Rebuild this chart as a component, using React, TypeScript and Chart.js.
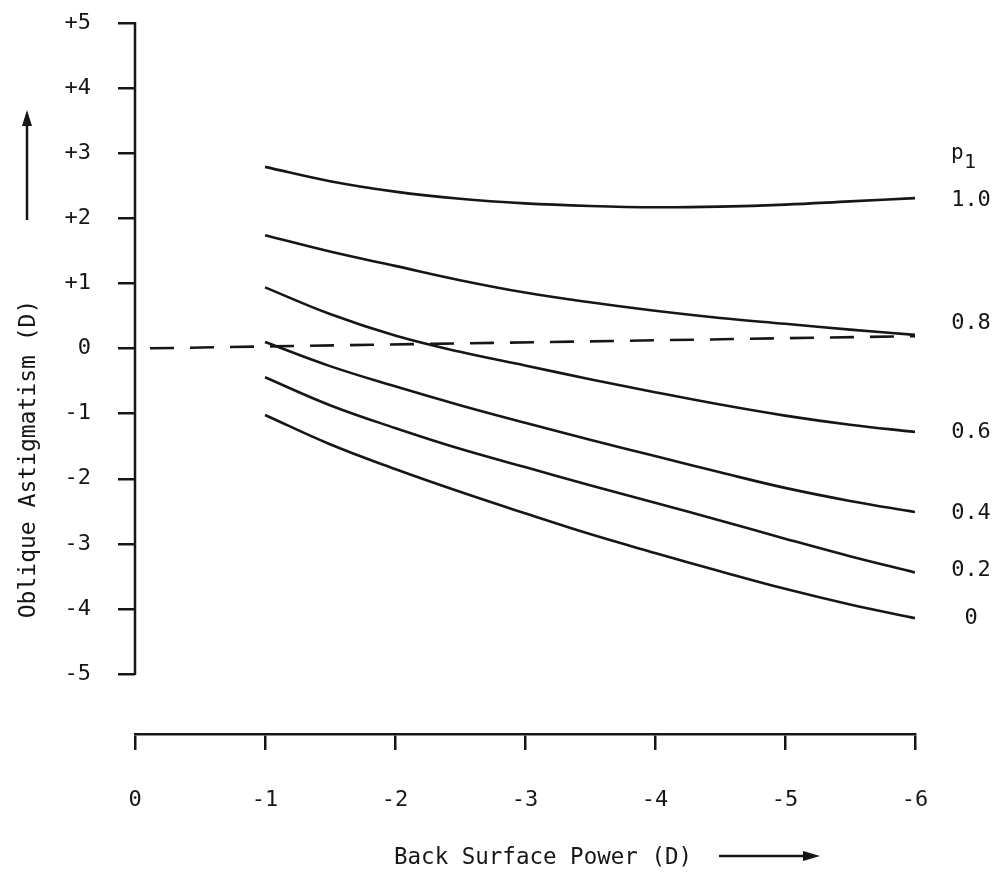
import React, { useEffect, useRef } from "react";
import { Chart, registerables } from "chart.js";

Chart.register(...registerables);

// ---- data ----
const X_VALUES = [-1, -1.5, -2, -2.5, -3, -3.5, -4, -4.5, -5, -5.5, -6];
const P1_NAMES = ["1.0", "0.8", "0.6", "0.4", "0.2", "0"];
const P1_10 = [2.79, 2.57, 2.41, 2.3, 2.23, 2.19, 2.17, 2.18, 2.21, 2.26, 2.31];
const P1_08 = [1.74, 1.49, 1.27, 1.05, 0.86, 0.71, 0.58, 0.47, 0.38, 0.29, 0.21];
const P1_06 = [0.94, 0.53, 0.2, -0.05, -0.26, -0.47, -0.67, -0.86, -1.03, -1.17, -1.28];
const P1_04 = [0.1, -0.27, -0.58, -0.87, -1.14, -1.4, -1.65, -1.9, -2.14, -2.34, -2.51];
const P1_02 = [-0.44, -0.87, -1.22, -1.54, -1.82, -2.1, -2.37, -2.64, -2.92, -3.19, -3.44];
const P1_00 = [-1.02, -1.47, -1.85, -2.2, -2.53, -2.85, -3.14, -3.42, -3.69, -3.93, -4.14];
const SERIES = [P1_10, P1_08, P1_06, P1_04, P1_02, P1_00];

const ZERO_LINE_X = [0, -6];
const ZERO_LINE_Y = [0, 0.19];

const P1_LABEL_Y = [2.28, 0.39, -1.28, -2.53, -3.41, -4.14];
const P1_HEADER_Y = 2.93;

const X_TICKS = [0, -1, -2, -3, -4, -5, -6];
const X_TICK_LABELS = ["0", "-1", "-2", "-3", "-4", "-5", "-6"];
const Y_TICKS = [5, 4, 3, 2, 1, 0, -1, -2, -3, -4, -5];
const Y_TICK_LABELS = ["+5", "+4", "+3", "+2", "+1", "0", "-1", "-2", "-3", "-4", "-5"];

const X_TITLE = "Back Surface Power (D)";
const Y_TITLE = "Oblique Astigmatism (D)";
const P1_HEADER = "p";
const P1_SUB = "1";

const INK = "#161616";
const FAMILY = "'DejaVu Sans Mono', 'Liberation Mono', monospace";

const decorPlugin = {
  id: "decor",
  afterDraw(chart: any) {
    const { ctx, chartArea } = chart;
    const x = chart.scales.x;
    const y = chart.scales.y;
    ctx.save();
    ctx.strokeStyle = INK;
    ctx.fillStyle = INK;
    ctx.lineWidth = 2.5;
    ctx.lineCap = "butt";

    // vertical axis line from +5 to -5 only
    ctx.beginPath();
    ctx.moveTo(chartArea.left, y.getPixelForValue(Y_TICKS[0]) - 1);
    ctx.lineTo(chartArea.left, y.getPixelForValue(Y_TICKS[Y_TICKS.length - 1]) + 1);
    ctx.stroke();

    // curve labels on the right
    ctx.font = `22px ${FAMILY}`;
    ctx.textAlign = "center";
    ctx.textBaseline = "middle";
    const lx = x.right + 56;
    P1_NAMES.forEach((name, i) => {
      ctx.fillText(name, lx, y.getPixelForValue(P1_LABEL_Y[i]));
    });
    // header p1
    const hy = y.getPixelForValue(P1_HEADER_Y);
    ctx.textAlign = "left";
    ctx.font = `21px ${FAMILY}`;
    ctx.fillText(P1_HEADER, x.right + 36, hy - 4);
    ctx.font = `20px ${FAMILY}`;
    ctx.fillText(P1_SUB, x.right + 49, hy + 5);

    // x title + arrow
    ctx.font = `22.5px ${FAMILY}`;
    ctx.textAlign = "left";
    ctx.fillText(X_TITLE, 394, 858);
    ctx.beginPath();
    ctx.moveTo(719, 856);
    ctx.lineTo(806, 856);
    ctx.stroke();
    ctx.beginPath();
    ctx.moveTo(820, 856);
    ctx.lineTo(803, 851);
    ctx.lineTo(803, 861);
    ctx.closePath();
    ctx.fill();

    // y title (rotated) + arrow
    ctx.save();
    ctx.translate(29, 459);
    ctx.rotate(-Math.PI / 2);
    ctx.font = `23px ${FAMILY}`;
    ctx.textAlign = "center";
    ctx.fillText(Y_TITLE, 0, 0);
    ctx.restore();
    ctx.beginPath();
    ctx.moveTo(27, 220);
    ctx.lineTo(27, 122);
    ctx.stroke();
    ctx.beginPath();
    ctx.moveTo(27, 110);
    ctx.lineTo(22, 126);
    ctx.lineTo(32, 126);
    ctx.closePath();
    ctx.fill();

    ctx.restore();
  },
};

export default function App() {
  const canvasRef = useRef<HTMLCanvasElement | null>(null);

  useEffect(() => {
    if (!canvasRef.current) return;
    const curveSets = SERIES.map((vals, i) => ({
      label: "p1 = " + P1_NAMES[i],
      data: X_VALUES.map((xv, j) => ({ x: xv, y: vals[j] })),
      borderColor: INK,
      backgroundColor: INK,
      borderWidth: 2.6,
      pointRadius: 0,
      tension: 0.4,
      fill: false,
    }));
    const zeroSet = {
      label: "zero",
      data: ZERO_LINE_X.map((xv, j) => ({ x: xv, y: ZERO_LINE_Y[j] })),
      borderColor: INK,
      borderWidth: 2.6,
      borderDash: [24, 16],
      borderDashOffset: 25,
      pointRadius: 0,
      fill: false,
    };

    const chart = new Chart(canvasRef.current, {
      type: "line",
      data: { datasets: [zeroSet, ...curveSets] as any },
      options: {
        animation: false,
        responsive: false,
        layout: { padding: { top: 23, right: 88, left: 0, bottom: 0 } },
        plugins: { legend: { display: false }, tooltip: { enabled: false } },
        scales: {
          x: {
            type: "linear",
            min: -6,
            max: 0,
            reverse: true,
            afterFit: (scale: any) => {
              scale.height = 150;
              scale.paddingLeft = 0;
              scale.paddingRight = 0;
            },
            afterBuildTicks: (scale: any) => {
              scale.ticks = X_TICKS.map((v) => ({ value: v }));
            },
            ticks: {
              callback: (v: any) => {
                const i = X_TICKS.indexOf(Number(v));
                return i >= 0 ? X_TICK_LABELS[i] : "";
              },
              font: { family: FAMILY, size: 22 },
              color: INK,
              padding: 37,
              maxRotation: 0,
              autoSkip: false,
            },
            grid: {
              drawOnChartArea: false,
              drawTicks: true,
              tickLength: 16,
              color: INK,
              lineWidth: 2.5,
            },
            border: { display: true, color: INK, width: 2.6 },
          },
          y: {
            type: "linear",
            min: -5.92,
            max: 5,
            afterFit: (scale: any) => {
              scale.width = 135;
              scale.paddingTop = 0;
              scale.paddingBottom = 0;
            },
            afterBuildTicks: (scale: any) => {
              scale.ticks = Y_TICKS.map((v) => ({ value: v }));
            },
            ticks: {
              callback: (v: any) => {
                const i = Y_TICKS.indexOf(Number(v));
                return i >= 0 ? Y_TICK_LABELS[i] : "";
              },
              font: { family: FAMILY, size: 22 },
              color: INK,
              padding: 27,
              autoSkip: false,
            },
            grid: {
              drawOnChartArea: false,
              drawTicks: true,
              tickLength: 17,
              color: INK,
              lineWidth: 2.5,
            },
            border: { display: false },
          },
        },
      },
      plugins: [decorPlugin],
    });
    return () => chart.destroy();
  }, []);

  return (
    <div style={{ position: "absolute", left: 0, top: 0, width: 1003, height: 884, background: "#fff" }}>
      <canvas ref={canvasRef} width={1003} height={884} style={{ display: "block" }} />
    </div>
  );
}
